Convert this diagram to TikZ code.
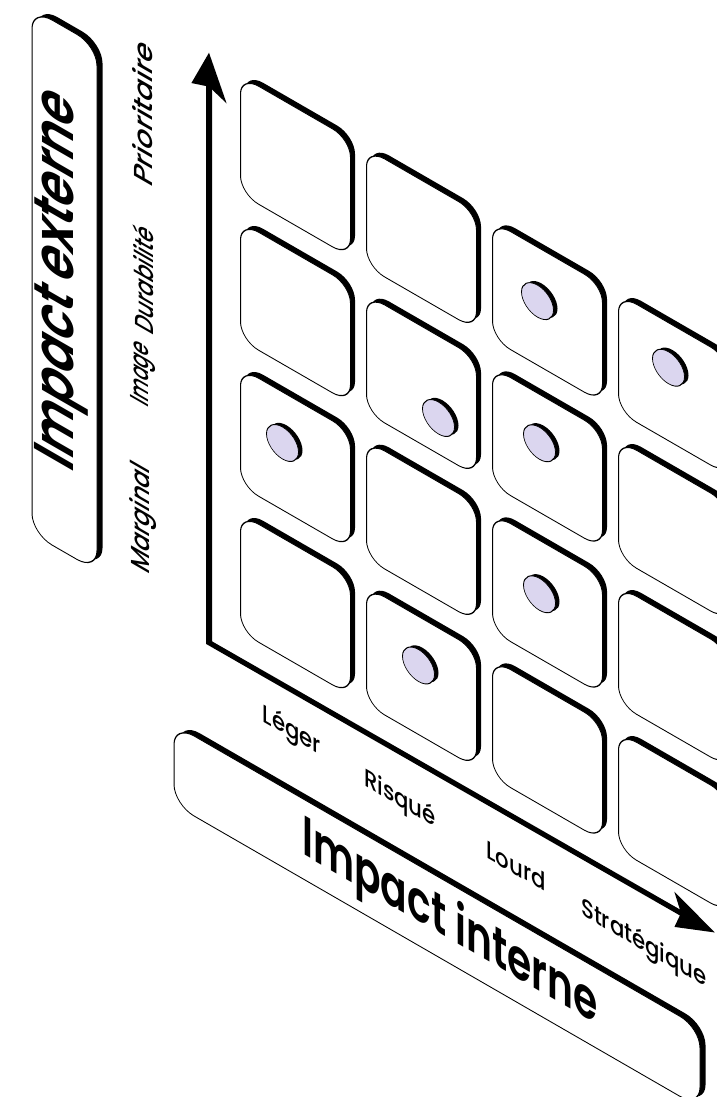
\documentclass[tikz,border=0pt]{standalone}
\usepackage{fontspec}
\setmainfont{Poppins}
\newfontfamily\popmed{Poppins Medium}
\newfontfamily\popsemi{Poppins SemiBold}
\usepackage{tikz}
\usetikzlibrary{arrows.meta,positioning,shadows}
\definecolor{lilac}{RGB}{219,214,239}

\begin{document}
\begin{tikzpicture}[
  x=1pt, y=1pt,
  node distance=27pt and 15pt,
  cell/.style={draw, line width=1pt, fill=white, rounded corners=18pt, minimum width=110pt, minimum height=118pt, inner sep=0pt, drop shadow={shadow xshift=4.5pt, shadow yshift=6pt, opacity=1, fill=black}},
  pastille/.style={circle, draw, line width=0.8pt, fill=lilac, minimum size=32pt, inner sep=0pt, drop shadow={shadow xshift=4pt, shadow yshift=4pt, opacity=1, fill=black}},
  bigbox/.style={draw, line width=1pt, fill=white, rounded corners=20pt, inner sep=0pt, drop shadow={shadow xshift=5.5pt, shadow yshift=6pt, opacity=1, fill=black}},
  axisline/.style={line width=6pt, {Stealth[length=40pt,width=34pt,inset=6pt]}-{Stealth[length=40pt,width=34pt,inset=6pt]}},
  bigtext/.style={font=\popsemi\fontsize{56}{60}\selectfont, transform shape},
  hlab/.style={font=\popmed\fontsize{25}{28}\selectfont, transform shape, xscale=0.85},
  vlab/.style={font=\popmed\fontsize{26}{28}\selectfont, rotate=90, transform shape}
]
\useasboundingbox (0,0) rectangle (717,-1097);
\fill[white] (0,0) rectangle (717,-1097);
\clip (0,0) rectangle (717,-1097);

\begin{scope}[transform canvas={cm={1,-0.577,0,1,(0,0)}}]
% axis boxes
\node[bigbox, minimum width=65pt, minimum height=525pt] (extbox) at (64.5,-252.5) {};
\node[bigbox, minimum width=526pt, minimum height=80pt] (intbox) at (437,-664) {};
\node[bigtext, rotate=90, xscale=0.86] (extlab) at (61,-246) {Impact externe};
\node[bigtext, xscale=0.7] (intlab) at (450,-665) {Impact interne};

% grid of cells
\node[cell, anchor=north west] (t14) at (240,63.5) {};
\node[cell, below=of t14] (t13) {};
\node[cell, below=of t13] (t12) {};
\node[cell, below=of t12] (t11) {};
\node[cell, right=of t14] (t24) {};
\node[cell, right=of t13] (t23) {};
\node[cell, right=of t12] (t22) {};
\node[cell, right=of t11] (t21) {};
\node[cell, right=of t24] (t34) {};
\node[cell, right=of t23] (t33) {};
\node[cell, right=of t22] (t32) {};
\node[cell, right=of t21] (t31) {};
\node[cell, right=of t34] (t44) {};
\node[cell, right=of t33] (t43) {};
\node[cell, right=of t32] (t42) {};
\node[cell, right=of t31] (t41) {};

% dots
\node[pastille, xshift=-13pt, yshift=8pt] (d12) at (t12.center) {};
\node[pastille, xshift=17pt, yshift=-23pt] (d23) at (t23.center) {};
\node[pastille, xshift=-3pt, yshift=10pt] (d21) at (t21.center) {};
\node[pastille, xshift=-10pt, yshift=5pt] (d34) at (t34.center) {};
\node[pastille, xshift=-8pt, yshift=10pt] (d33) at (t33.center) {};
\node[pastille, xshift=-8pt, yshift=5pt] (d32) at (t32.center) {};
\node[pastille, xshift=-5pt, yshift=14pt] (d44) at (t44.center) {};

% axes
\coordinate (o) at (209,-522);
\coordinate (ytip) at (209,68);
\coordinate (xtip) at (715,-520);
\draw[axisline] (ytip) -- (o) -- (xtip);

% scale labels
\node[hlab] (leger) at (292,-563) {Léger};
\node[hlab] (risque) at (400,-569) {Risqué};
\node[hlab] (lourd) at (516,-568) {Lourd};
\node[hlab] (strat) at (644,-573) {Stratégique};
\node[vlab, xscale=0.92] (marg) at (143,-436) {Marginal};
\node[vlab, xscale=0.72] (image) at (143,-292) {Image};
\node[vlab, xscale=0.82] (dura) at (143,-196) {Durabilité};
\node[vlab, xscale=1.12] (prio) at (143,-30) {Prioritaire};
\end{scope}
\end{tikzpicture}
\end{document}
